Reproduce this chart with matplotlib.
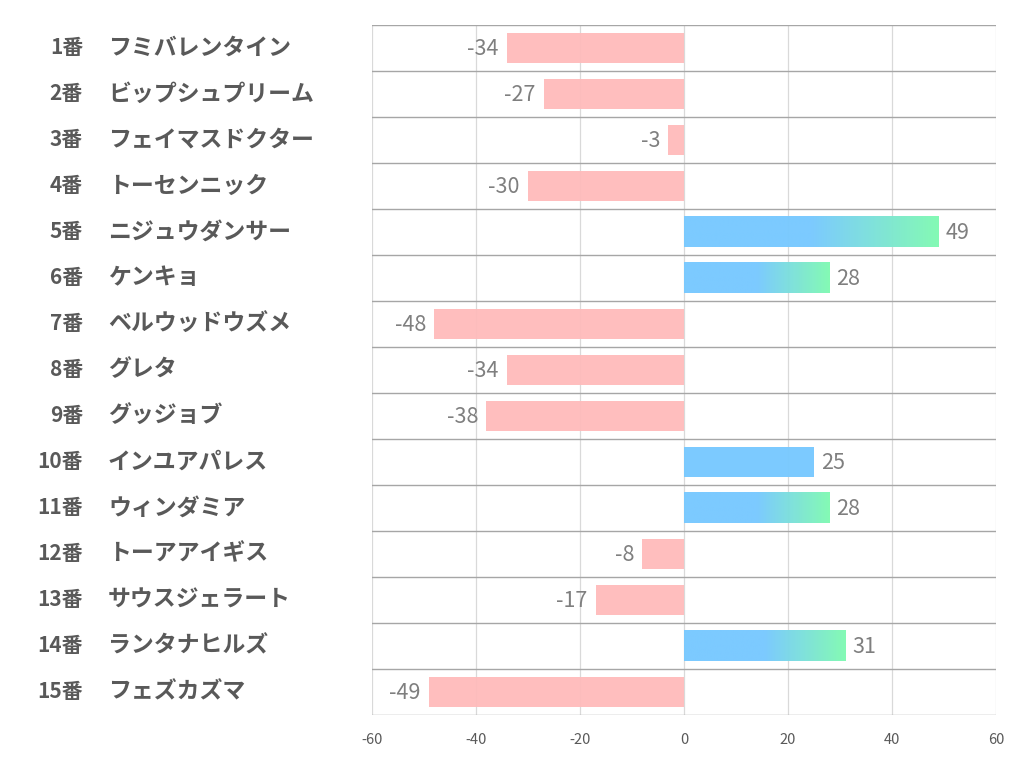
import numpy as np
import matplotlib.pyplot as plt
from matplotlib.colors import LinearSegmentedColormap
from matplotlib.transforms import blended_transform_factory

plt.rcParams['font.family'] = ['Noto Sans CJK JP', 'DejaVu Sans']

numbers = [f"{i}番" for i in range(1, 16)]
names = ["フミバレンタイン", "ビップシュプリーム", "フェイマスドクター", "トーセンニック",
         "ニジュウダンサー", "ケンキョ", "ベルウッドウズメ", "グレタ", "グッジョブ",
         "インユアパレス", "ウィンダミア", "トーアアイギス", "サウスジェラート",
         "ランタナヒルズ", "フェズカズマ"]
values = [-34, -27, -3, -30, 49, 28, -48, -34, -38, 25, 28, -8, -17, 31, -49]
xticks = [-60, -40, -20, 0, 20, 40, 60]

PINK = "#FFBBBB"
BLUE = "#78C9FF"
GREEN = "#80FAB2"
BAR_H = 0.66


def main():
    fig = plt.figure(figsize=(10.22, 7.82), dpi=100)
    ax = fig.add_axes([372 / 1022, 1 - 715 / 782, 624 / 1022, 690 / 782])

    cmap = LinearSegmentedColormap.from_list(
        "bg", [(0, BLUE), (0.5, BLUE), (1.0, GREEN)])
    grad = np.linspace(0, 1, 256).reshape(1, -1)

    for i, v in enumerate(values):
        if v < 0:
            ax.barh(i, v, height=BAR_H, color=PINK, alpha=0.95, zorder=1)
            ax.annotate(str(v), (v, i), xytext=(-6, -1), textcoords="offset points",
                        ha="right", va="center", fontsize=15.5, color="#7F7F7F")
        else:
            # the top scorers get a blue-to-green fade over the right half
            if v >= 28:
                ax.imshow(grad, cmap=cmap, aspect="auto", zorder=1,
                          extent=[0, v, i + BAR_H / 2, i - BAR_H / 2],
                          interpolation="bilinear", alpha=0.97)
            else:
                ax.barh(i, v, height=BAR_H, color=BLUE, alpha=0.97, zorder=1)
            ax.annotate(str(v), (v, i), xytext=(5, -1), textcoords="offset points",
                        ha="left", va="center", fontsize=15.5, color="#7F7F7F")

    ax.set_xlim(-60, 60)
    ax.set_ylim(14.5, -0.5)
    ax.set_xticks(xticks)
    ax.set_xticklabels([str(t) for t in xticks])
    ax.set_yticks([])
    ax.tick_params(axis="x", length=0, pad=13, labelsize=10.5, labelcolor="#595959")
    for x in xticks:
        ax.axvline(x, color="#D9D9D9", lw=0.9, zorder=0.5)
    for y in np.arange(-0.5, 15, 1):
        ax.axhline(y, color="#A6A6A6", lw=1.0, zorder=2)
    for s in ax.spines.values():
        s.set_visible(False)

    tr = blended_transform_factory(fig.transFigure, ax.transData)
    for i, (n, name) in enumerate(zip(numbers, names)):
        ax.text(83 / 1022, i, n, transform=tr, ha="right", va="center",
                fontsize=15, fontweight="bold", color="#595959")
        ax.text(108 / 1022, i, name, transform=tr, ha="left", va="center",
                fontsize=16.5, fontweight="bold", color="#595959")

    fig.savefig("out.png", dpi=100)
    plt.close(fig)


if __name__ == "__main__":
    main()
